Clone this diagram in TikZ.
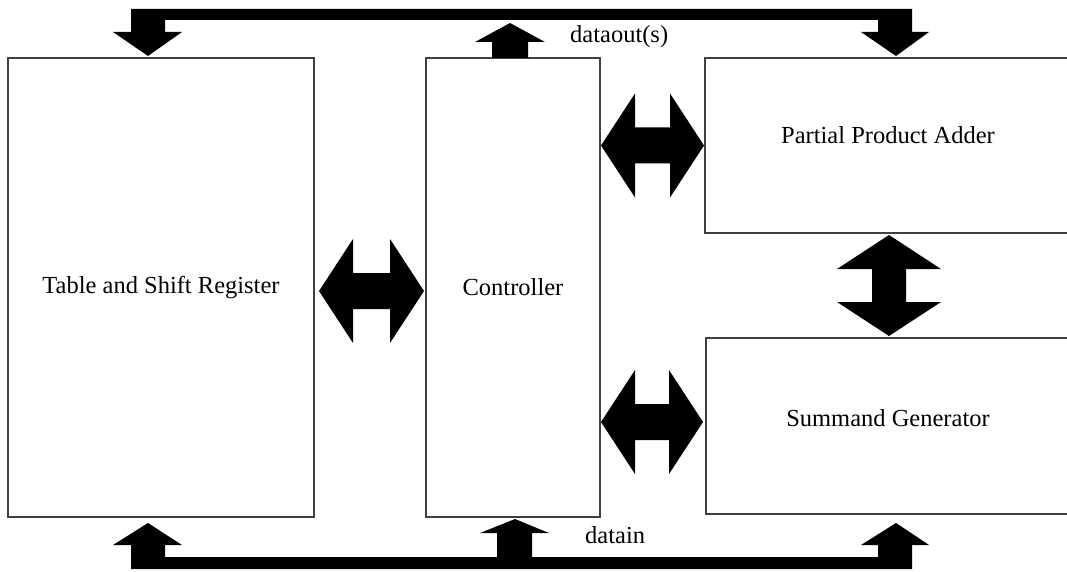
\documentclass[tikz,border=0pt]{standalone}
\usepackage{fontspec}
\setmainfont{Liberation Serif}
\usetikzlibrary{calc}

% filled two-headed arrows between two tip points
\newcommand{\hbiarrow}[2]{%
  \fill (#1) -- ++(34,-52) -- ++(0,34) -- ($(#2)+(-34,-18)$) -- ++(0,-34) -- (#2)
    -- ++(-34,52) -- ++(0,-34) -- ($(#1)+(34,18)$) -- ++(0,34) -- cycle;}
\newcommand{\vbiarrow}[2]{%
  \fill (#1) -- ++(52,34) -- ++(-35,0) -- ($(#2)+(17,-34)$) -- ++(35,0) -- (#2)
    -- ++(-52,-34) -- ++(35,0) -- ($(#1)+(-17,34)$) -- ++(-35,0) -- cycle;}

\begin{document}
\begin{tikzpicture}[
  x=1pt, y=-1pt,
  block/.style={rectangle, draw=black!75, line width=1.5pt, inner sep=0pt, outer sep=0pt, font=\fontsize{24.5}{28}\selectfont},
  buslabel/.style={inner sep=0pt, font=\fontsize{24.5}{28}\selectfont},
]
  \useasboundingbox (0,0) rectangle (1067,572);

  % Blocks
  \node[block, minimum width=306pt, minimum height=459pt] at (161,287.5) (tsr) {Table and Shift Register};
  \node[block, minimum width=174pt, minimum height=459pt] at (513,287.5) (ctrl) {Controller};
  \node[block, minimum width=366pt, minimum height=175pt] at (888,145.5) (ppa) {};
  \node[buslabel] at ([yshift=10pt]ppa.center) (ppatext) {Partial Product Adder};
  \node[block, minimum width=364pt, minimum height=176pt] at (888,426) (sg) {};
  \node[buslabel] at ([yshift=8pt]sg.center) (sgtext) {Summand Generator};

  % Bus tips
  \coordinate (tl) at ($(tsr.north)+(-13,-2)$);
  \coordinate (tr) at ($(ppa.north)+(8,-2)$);
  \coordinate (bl) at ($(tsr.south)+(-13,6)$);
  \coordinate (br) at ($(sg.south)+(8,9)$);
  \coordinate (ct) at ($(ctrl.north)+(-3,-35)$);
  \coordinate (cb) at ($(ctrl.south)+(2,2)$);

  % dataout bus
  \fill (tl) -- ++(34,-24) -- ++(-17,0) -- ++(0,-12) -- ($(tr)+(-18,-36)$) -- ++(0,12) -- ++(-17,0)
    -- (tr) -- ++(33,-24) -- ++(-17,0) -- ++(0,-23) -- ($(tl)+(-17,-47)$) -- ++(0,23) -- ++(-18,0) -- cycle;
  \fill (ct) -- ++(35,19) -- ++(-17,0) -- ++(0,16) -- ++(-36,0) -- ++(0,-16) -- ++(-17,0) -- cycle;
  \node[buslabel, anchor=base west] at (570,43) (dout) {dataout(s)};

  % datain bus
  \fill (bl) -- ++(34,22) -- ++(-17,0) -- ++(0,12) -- ($(br)+(-18,34)$) -- ++(0,-12) -- ++(-17,0)
    -- (br) -- ++(33,22) -- ++(-17,0) -- ++(0,24) -- ($(bl)+(-17,46)$) -- ++(0,-24) -- ++(-18,0) -- cycle;
  \fill (cb) -- ++(34,14) -- ++(-17,0) -- ++(0,24) -- ++(-35,0) -- ++(0,-24) -- ++(-17,0) -- cycle;
  \node[buslabel, anchor=base west] at (585,543) (din) {datain};

  % Two-way links
  \hbiarrow{$(tsr.east)+(5,3.5)$}{$(ctrl.west)+(-2,3.5)$}
  \hbiarrow{$(ctrl.east |- ppa.center)+(1,0)$}{$(ppa.west)+(-1,0)$}
  \hbiarrow{$(ctrl.east |- sg.center)+(1,-4)$}{$(sg.west)+(-3,-4)$}
  \vbiarrow{$(ppa.south)+(1,2)$}{$(sg.north)+(1,-2)$}
\end{tikzpicture}
\end{document}
